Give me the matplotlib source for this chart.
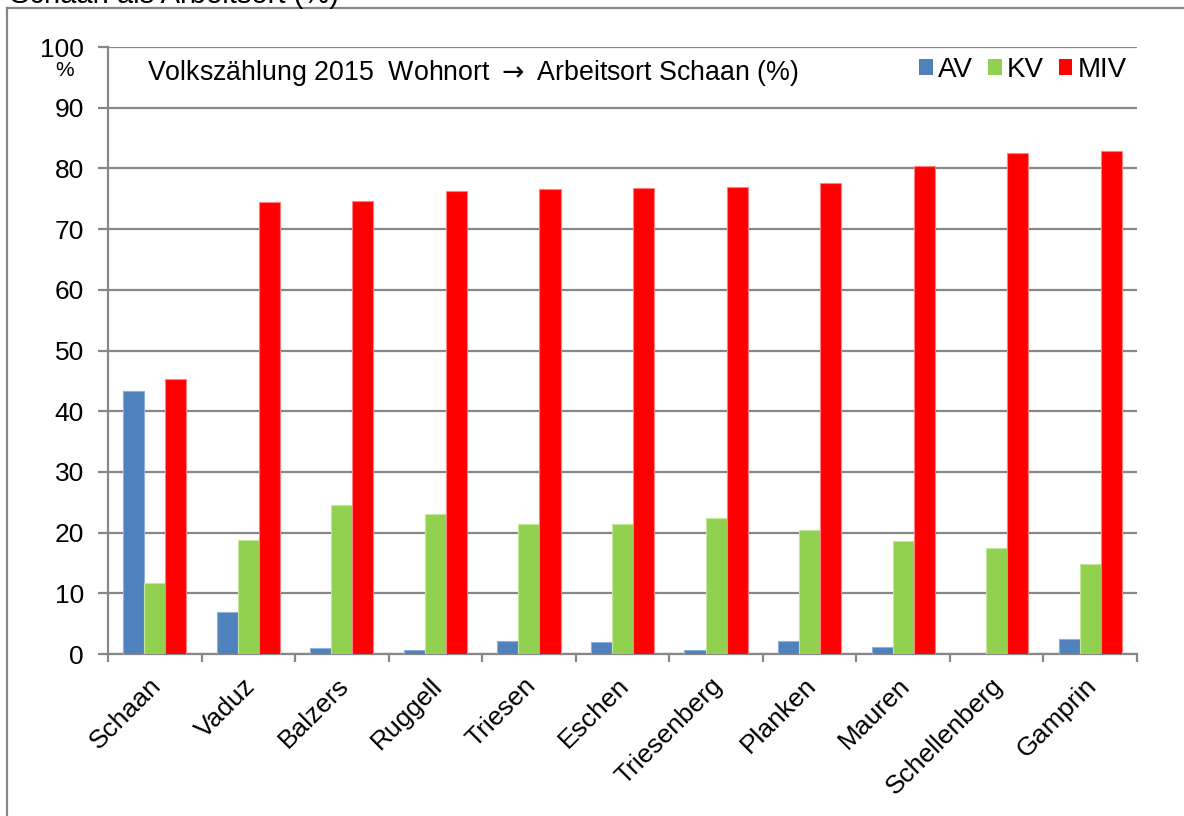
import matplotlib

matplotlib.use("Agg")

import matplotlib.pyplot as plt  # noqa: E402
import numpy as np  # noqa: E402
from matplotlib.patches import Patch  # noqa: E402
from matplotlib.transforms import ScaledTranslation  # noqa: E402

plt.rcParams["font.family"] = ["Liberation Sans", "DejaVu Sans"]

# Wohnort -> Arbeitsort Schaan, share by mode (%)
gemeinden = ["Schaan", "Vaduz", "Balzers", "Ruggell", "Triesen", "Eschen",
             "Triesenberg", "Planken", "Mauren", "Schellenberg", "Gamprin"]
av = [43.3, 6.9, 1.0, 0.7, 2.1, 2.0, 0.7, 2.1, 1.2, 0.0, 2.4]
kv = [11.7, 18.8, 24.5, 23.1, 21.4, 21.4, 22.4, 20.4, 18.6, 17.5, 14.8]
miv = [45.3, 74.5, 74.6, 76.3, 76.6, 76.8, 77.0, 77.6, 80.4, 82.6, 82.9]
y_ticks = list(range(0, 101, 10))

series = [("AV", av, "#4F81BD", "#8FB0DA"),
          ("KV", kv, "#92D050", "#C2E69A"),
          ("MIV", miv, "#FF0000", "#FF8080")]

GRID = "#878787"

fig = plt.figure(figsize=(11.84, 8.16), dpi=100)
ax = fig.add_axes([0.0912, 0.1985, 0.8691, 0.7439])

x = np.arange(len(gemeinden))
w = 0.225
for i, (name, vals, col, edge) in enumerate(series):
    ax.bar(x + (i - 1) * w, vals, width=w, color=col, edgecolor=edge,
           linewidth=0.8, zorder=3, label=name)

ax.set_xlim(-0.5, len(gemeinden) - 0.5)
ax.set_ylim(0, 100)
ax.set_yticks(y_ticks)
ax.yaxis.grid(True, color=GRID, linewidth=1.6, zorder=0)
ax.set_axisbelow(True)

ax.set_xticks(x)
ax.set_xticklabels(gemeinden, rotation=45, ha="right", rotation_mode="anchor",
                   fontsize=19)
ax.set_xticks(np.arange(-0.5, len(gemeinden)), minor=True)
ax.tick_params(axis="x", which="major", length=0, pad=14)
ax.tick_params(axis="x", which="minor", length=6, width=1.6, color=GRID)
ax.tick_params(axis="y", length=7.2, width=1.6, color=GRID, labelsize=19, pad=10)
shift = ScaledTranslation(-4 / 72, 0, fig.dpi_scale_trans)
for lab in ax.get_xticklabels():
    lab.set_transform(lab.get_transform() + shift)

for side in ("top", "right"):
    ax.spines[side].set_visible(False)
for side in ("left", "bottom"):
    ax.spines[side].set_color(GRID)
    ax.spines[side].set_linewidth(1.6)

ax.text(0.038, 0.957,
        "Volkszählung 2015  Wohnort $\\rightarrow$ Arbeitsort Schaan (%)",
        transform=ax.transAxes, fontsize=19.3, va="center", ha="left")
ax.text(-0.0423, 0.962, "%", transform=ax.transAxes, fontsize=15,
        va="center", ha="center")

handles = [Patch(facecolor=c, edgecolor="none", label=n) for n, _, c, _ in series]
leg = ax.legend(handles=handles, loc="center right", ncol=3, fontsize=20,
                frameon=True, fancybox=False, borderaxespad=0.0,
                bbox_to_anchor=(0.998, 0.962), handlelength=0.5,
                handleheight=0.5, handletextpad=0.18, columnspacing=0.54,
                borderpad=0.3)
leg.get_frame().set_facecolor("white")
leg.get_frame().set_edgecolor("none")
leg.get_frame().set_alpha(1.0)
leg.set_zorder(5)

# outer frame and clipped caption from the source layout
fig.add_artist(plt.Line2D([7 / 1184, 7 / 1184], [0, 1 - 8 / 816],
                          color=GRID, linewidth=1.6))
fig.add_artist(plt.Line2D([7 / 1184, 1], [1 - 8 / 816, 1 - 8 / 816],
                          color=GRID, linewidth=1.6))
fig.text(10 / 1184, 1 - 3 / 816, "Schaan als Arbeitsort (%)", fontsize=21,
         va="baseline", ha="left")

fig.savefig("out.png", dpi=100)
